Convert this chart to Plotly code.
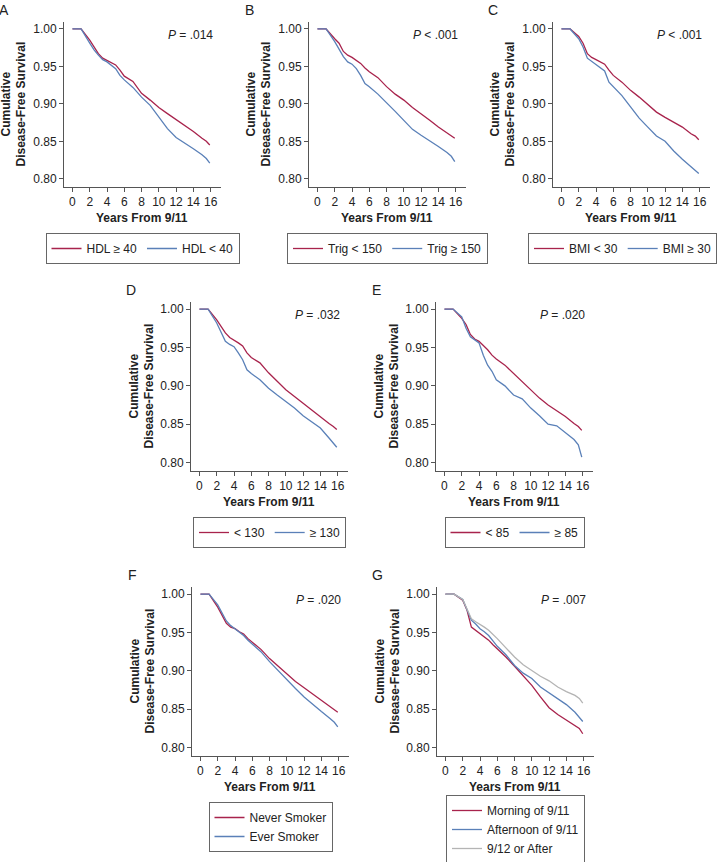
import plotly.graph_objects as go

# years after 9/11 at which the curves were read
YEARS = [0, 1, 2, 2.5, 3, 3.5, 4, 4.5, 5, 5.5, 6, 7, 8, 9, 10, 11, 12, 13, 14, 15, 15.5, 15.9]

# A - HDL
hdl_ge40 = [1.000, 1.000, 0.985, 0.976, 0.967, 0.961, 0.958, 0.955, 0.952, 0.945, 0.937, 0.930, 0.914,
            0.905, 0.895, 0.887, 0.879, 0.872, 0.863, 0.854, 0.850, 0.845]
hdl_lt40 = [1.000, 1.000, 0.981, 0.972, 0.965, 0.959, 0.956, 0.952, 0.947, 0.938, 0.932, 0.922, 0.909,
            0.898, 0.883, 0.867, 0.855, 0.848, 0.840, 0.832, 0.827, 0.821]
# B - triglycerides
trig_lt150 = [1.000, 1.000, 0.987, 0.981, 0.970, 0.965, 0.962, 0.958, 0.954, 0.948, 0.943, 0.935, 0.923,
              0.913, 0.905, 0.895, 0.887, 0.878, 0.869, 0.861, 0.858, 0.854]
trig_ge150 = [1.000, 1.000, 0.983, 0.972, 0.963, 0.956, 0.953, 0.947, 0.938, 0.927, 0.923, 0.913, 0.902,
              0.890, 0.878, 0.866, 0.858, 0.851, 0.843, 0.835, 0.830, 0.823]
# C - BMI
bmi_lt30 = [1.000, 1.000, 0.990, 0.981, 0.967, 0.962, 0.959, 0.956, 0.953, 0.945, 0.938, 0.929, 0.918,
            0.909, 0.899, 0.889, 0.882, 0.875, 0.869, 0.860, 0.857, 0.852]
bmi_ge30 = [1.000, 1.000, 0.987, 0.976, 0.961, 0.957, 0.953, 0.949, 0.944, 0.929, 0.923, 0.911, 0.896,
            0.881, 0.869, 0.857, 0.850, 0.837, 0.826, 0.816, 0.811, 0.807]
# D - < 130 / >= 130
d_lt130 = [1.000, 1.000, 0.986, 0.977, 0.969, 0.963, 0.960, 0.956, 0.952, 0.943, 0.937, 0.930, 0.917,
           0.906, 0.895, 0.886, 0.877, 0.869, 0.860, 0.851, 0.847, 0.843]
d_ge130 = [1.000, 1.000, 0.982, 0.969, 0.958, 0.954, 0.951, 0.943, 0.934, 0.921, 0.916, 0.908, 0.897,
           0.888, 0.880, 0.871, 0.861, 0.853, 0.845, 0.832, 0.826, 0.820]
# E - < 85 / >= 85
e_lt85 = [1.000, 1.000, 0.988, 0.980, 0.967, 0.961, 0.958, 0.953, 0.947, 0.940, 0.935, 0.927, 0.916,
          0.906, 0.895, 0.884, 0.875, 0.868, 0.860, 0.851, 0.847, 0.842]
e_ge85 = [1.000, 1.000, 0.990, 0.975, 0.964, 0.960, 0.956, 0.940, 0.927, 0.919, 0.908, 0.900, 0.888,
          0.883, 0.871, 0.861, 0.850, 0.848, 0.839, 0.830, 0.823, 0.807]
# F - smoking
never_smoker = [1.000, 1.000, 0.983, 0.972, 0.962, 0.957, 0.955, 0.951, 0.948, 0.942, 0.937, 0.928, 0.916,
                0.906, 0.896, 0.886, 0.878, 0.870, 0.862, 0.854, 0.850, 0.846]
ever_smoker = [1.000, 1.000, 0.986, 0.975, 0.965, 0.959, 0.955, 0.950, 0.946, 0.940, 0.935, 0.925, 0.912,
               0.900, 0.889, 0.877, 0.866, 0.856, 0.847, 0.838, 0.833, 0.827]
# G - arrival time
morning_911 = [1.000, 1.000, 0.992, 0.979, 0.957, 0.953, 0.948, 0.944, 0.940, 0.934, 0.929, 0.918, 0.906,
               0.894, 0.881, 0.866, 0.852, 0.843, 0.836, 0.828, 0.825, 0.818]
afternoon_911 = [1.000, 1.000, 0.993, 0.979, 0.966, 0.961, 0.955, 0.951, 0.946, 0.939, 0.932, 0.921, 0.907,
                 0.897, 0.890, 0.879, 0.871, 0.863, 0.856, 0.846, 0.840, 0.834]
after_912 = [1.000, 1.000, 0.993, 0.981, 0.968, 0.964, 0.961, 0.957, 0.953, 0.948, 0.942, 0.930, 0.918,
             0.908, 0.900, 0.893, 0.887, 0.879, 0.873, 0.868, 0.864, 0.858]

PANEL_LETTERS = ["A", "B", "C", "D", "E", "F", "G"]
P_VALUES = ["= .014", "< .001", "< .001", "= .032", "= .020", "= .020", "= .007"]
SERIES = [
    [("HDL ≥ 40", hdl_ge40), ("HDL < 40", hdl_lt40)],
    [("Trig < 150", trig_lt150), ("Trig ≥ 150", trig_ge150)],
    [("BMI < 30", bmi_lt30), ("BMI ≥ 30", bmi_ge30)],
    [("< 130", d_lt130), ("≥ 130", d_ge130)],
    [("< 85", e_lt85), ("≥ 85", e_ge85)],
    [("Never Smoker", never_smoker), ("Ever Smoker", ever_smoker)],
    [("Morning of 9/11", morning_911), ("Afternoon of 9/11", afternoon_911), ("9/12 or After", after_912)],
]
COLORS = ["#a8234c", "#5a80b8", "#b4b4b4"]

W, H = 719, 862
FONT = "Liberation Sans, Arial, Helvetica, sans-serif"
TXT = "#222222"
AX = "#555555"

# plot boxes in pixels: left, top, bottom (all 157 px wide)
boxes = [(64, 22, 187), (309, 22, 187), (553, 22, 187),
         (191, 302, 471), (436, 302, 471),
         (192, 587, 756), (437, 587, 756)]
BOX_W = 157

fig = go.Figure()
layout = dict(
    width=W, height=H,
    # fixed margins: legends near the edges must not shrink the panels
    margin=dict(l=0, r=0, t=0, b=0, autoexpand=False),
    paper_bgcolor="white", plot_bgcolor="white",
    font=dict(family=FONT, size=12, color=TXT),
    showlegend=True,
    annotations=[],
)

for i, (left, top, bottom) in enumerate(boxes):
    n = "" if i == 0 else str(i + 1)
    xa, ya = "x" + n, "y" + n
    leg = "legend" + n
    vertical = len(SERIES[i]) > 2 or i == 5

    for j, (name, vals) in enumerate(SERIES[i]):
        fig.add_trace(go.Scatter(
            x=YEARS, y=vals, mode="lines", name=name,
            line=dict(color=COLORS[j], width=1.3),
            xaxis=xa, yaxis=ya, legend=leg,
        ))

    layout["xaxis" + n] = dict(
        domain=[left / W, (left + BOX_W) / W], anchor=ya,
        range=[-0.98, 17.2], tickvals=list(range(0, 17, 2)),
        showgrid=False, zeroline=False, showline=True, linecolor=AX, linewidth=1,
        ticks="outside", ticklen=4, tickcolor=AX, tickfont=dict(size=12, color=TXT),
    )
    layout["yaxis" + n] = dict(
        domain=[1 - bottom / H, 1 - top / H], anchor=xa,
        range=[0.789, 1.0093], tickvals=[0.80, 0.85, 0.90, 0.95, 1.00], tickformat=".2f",
        showgrid=False, zeroline=False, showline=True, linecolor=AX, linewidth=1,
        ticks="outside", ticklen=4, tickcolor=AX, tickfont=dict(size=12, color=TXT),
    )

    lx, lanchor = (left + BOX_W / 2) / W, "center"
    ly = 1 - (bottom + 46) / H
    if i == 2:
        lx, lanchor = 717 / W, "right"
    if i == 6:
        ly = 1 - (bottom + 39) / H
    layout[leg] = dict(
        x=lx, xanchor=lanchor, y=ly, yanchor="top",
        orientation="v" if vertical else "h",
        bordercolor="#666666", borderwidth=1, bgcolor="white",
        font=dict(size=12, color=TXT), itemwidth=30,
        tracegroupgap=0,
    )

    ann = layout["annotations"]
    # panel letter
    ann.append(dict(text=PANEL_LETTERS[i], xref=xa + " domain", yref=ya + " domain",
                    x=0, y=1, xshift=-60, yshift=12, showarrow=False,
                    font=dict(size=14, color=TXT), xanchor="center", yanchor="middle"))
    # p value
    ann.append(dict(text="<i>P</i> " + P_VALUES[i], xref=xa + " domain", yref=ya + " domain",
                    x=1, y=1, xshift=-6, yshift=-13, showarrow=False,
                    font=dict(size=12, color=TXT), xanchor="right", yanchor="middle"))
    # y title
    ann.append(dict(text="<b>Cumulative<br>Disease-Free Survival</b>", xref=xa + " domain",
                    yref=ya + " domain", x=0, y=0.5, xshift=-50, showarrow=False, textangle=-90,
                    font=dict(size=12, color=TXT), xanchor="center", yanchor="middle"))
    # x title
    ann.append(dict(text="<b>Years From 9/11</b>", xref=xa, yref=ya + " domain",
                    x=8, y=0, yshift=-31, showarrow=False,
                    font=dict(size=12, color=TXT), xanchor="center", yanchor="middle"))

fig.update_layout(**layout)
# drop the browser's default body margin so the figure fills the window
fig.write_html("out.html", config={"displayModeBar": False},
               post_script="document.body.style.margin = '0';")
